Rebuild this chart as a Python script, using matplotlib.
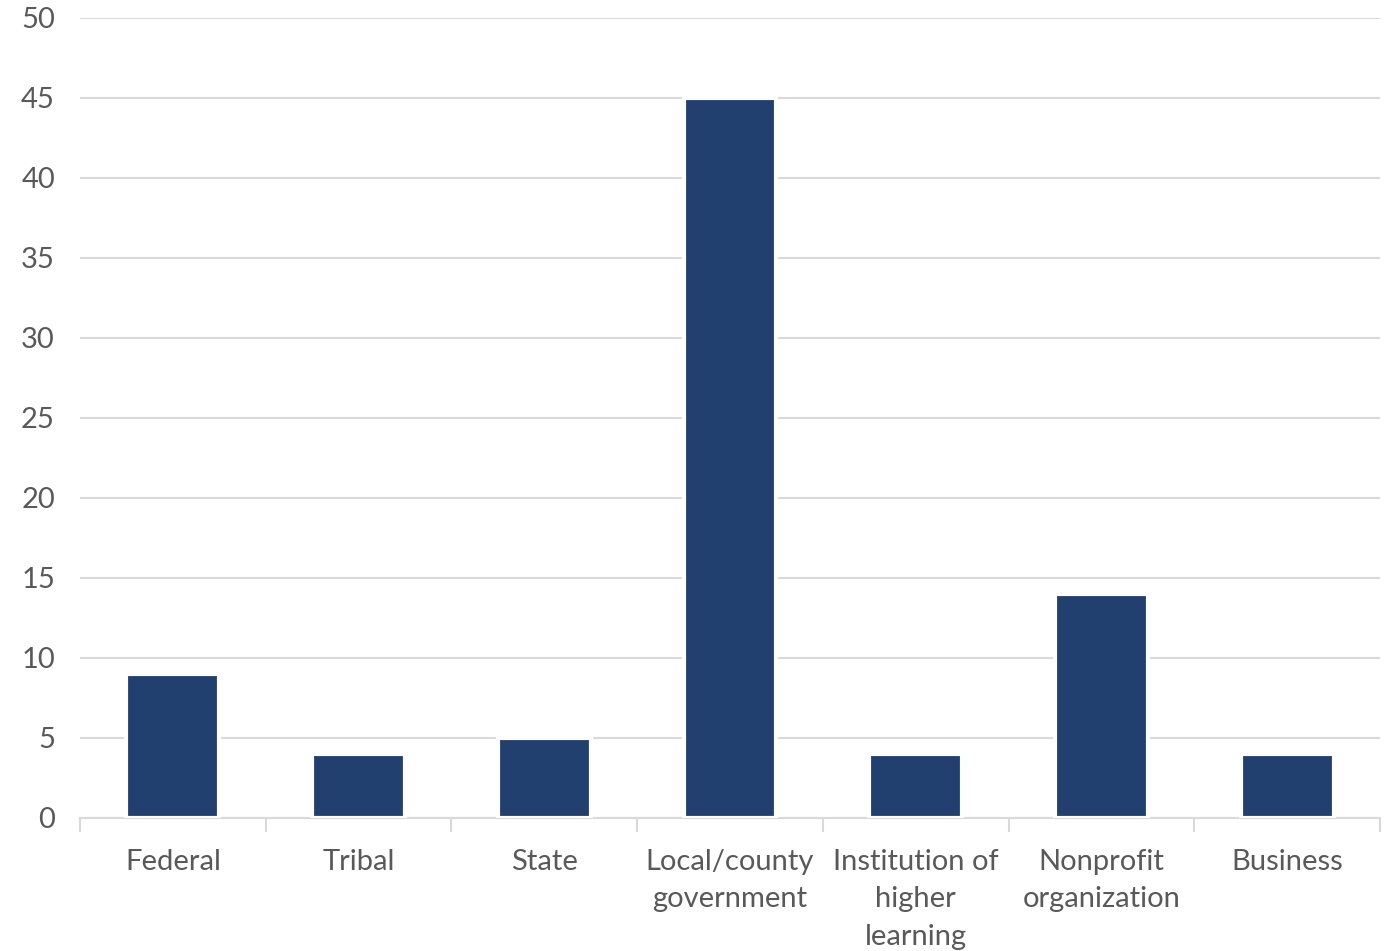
import matplotlib.pyplot as plt

categories = ['Federal', 'Tribal', 'State', 'Local/county\ngovernment',
              'Institution of\nhigher\nlearning', 'Nonprofit\norganization', 'Business']
counts = [9, 4, 5, 45, 4, 14, 4]

plt.rcParams['font.family'] = ['Lato', 'DejaVu Sans']

fig = plt.figure(figsize=(13.91, 9.51), dpi=100)
ax = fig.add_axes([80 / 1391, 1 - 818 / 951, 1300 / 1391, 800 / 951])

x = range(len(categories))
ax.bar(x, counts, width=0.5, color='#22406f', edgecolor='white', linewidth=3, zorder=3)

ax.set_xlim(-0.5, len(categories) - 0.5)
ax.set_ylim(0, 50)
ax.set_yticks(range(0, 51, 5))
ax.grid(axis='y', color='#d9d9d9', linewidth=1.5, zorder=0)

# category separators below the baseline
ax.set_xticks([i - 0.5 for i in range(len(categories) + 1)], minor=True)
ax.set_xticks(list(x))
ax.set_xticklabels(categories, fontsize=21, color='#595959', linespacing=1.55)
ax.tick_params(axis='x', which='major', length=0, pad=22)
ax.tick_params(axis='x', which='minor', length=10, width=1.5, color='#d9d9d9')
ax.tick_params(axis='y', length=0, labelsize=21, labelcolor='#595959', pad=18)

for side in ['top', 'right', 'left']:
    ax.spines[side].set_visible(False)
ax.spines['bottom'].set_color('#d9d9d9')
ax.spines['bottom'].set_linewidth(1.5)

fig.savefig('out.png', dpi=100)
